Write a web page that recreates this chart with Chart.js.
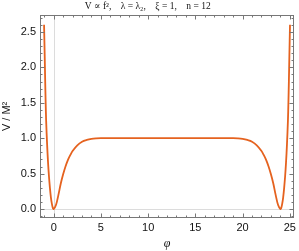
<!DOCTYPE html>
<html>
<head>
<meta charset="utf-8">
<script src="https://cdn.jsdelivr.net/npm/chart.js@4"></script>
<style>
  html, body { margin: 0; padding: 0; background: #fff; }
  #wrap { width: 299px; height: 251px; }
</style>
</head>
<body>
<div id="wrap"><canvas id="myChart"></canvas></div>
<script>
// values
const phi = [-1.02, -0.95, -0.9, -0.85, -0.8, -0.7, -0.6, -0.5, -0.4, -0.3, -0.2, -0.1, 0,
    0.25, 0.5, 0.75, 1, 1.25, 1.5, 1.75, 2, 2.5, 3, 3.5, 4, 4.5, 5, 6, 8, 10, 12, 14, 16, 18, 19,
    19.5, 20, 20.5, 21, 21.5, 22, 22.25, 22.5, 22.75, 23, 23.25, 23.5, 23.75, 24,
    24.1, 24.2, 24.3, 24.4, 24.5, 24.6, 24.7, 24.8, 24.85, 24.9, 24.95, 25.02];
const potential = [2.6, 2.15, 1.8, 1.5, 1.25, 0.92, 0.66, 0.46, 0.3, 0.17, 0.08, 0.02, 0,
    0.06, 0.2, 0.36, 0.49, 0.6, 0.69, 0.76, 0.82, 0.9, 0.95, 0.975, 0.99, 0.997, 1, 1, 1, 1, 1, 1, 1, 1, 1,
    0.997, 0.99, 0.975, 0.95, 0.9, 0.82, 0.76, 0.69, 0.6, 0.49, 0.36, 0.2, 0.06, 0,
    0.02, 0.08, 0.17, 0.3, 0.46, 0.66, 0.92, 1.25, 1.5, 1.8, 2.15, 2.6];
const xTicks = [0, 5, 10, 15, 20, 25];
const yTicks = [0, 0.5, 1, 1.5, 2, 2.5];

const X_MIN = -1.45, X_MAX = 25.45, Y_MIN = -0.126, Y_MAX = 2.74;

// Mathematica-like frame with inward ticks + zero lines
const framePlugin = {
    id: 'frame',
    beforeDatasetsDraw(chart) {
        const {ctx, chartArea: a, scales: {x, y}} = chart;
        ctx.save();
        ctx.strokeStyle = '#dcdcdc';
        ctx.lineWidth = 1;
        ctx.beginPath();
        const x0 = Math.round(x.getPixelForValue(0)) + 0.5;
        const y0 = Math.round(y.getPixelForValue(0)) + 0.5;
        ctx.moveTo(x0, a.top); ctx.lineTo(x0, a.bottom);
        ctx.moveTo(a.left, y0); ctx.lineTo(a.right, y0);
        ctx.stroke();
        ctx.restore();
    },
    afterDatasetsDraw(chart) {
        const {ctx, chartArea: a, scales: {x, y}} = chart;
        ctx.save();
        ctx.strokeStyle = '#777';
        ctx.lineWidth = 1;
        const L = Math.round(a.left) + 0.5, R = Math.round(a.right) - 0.5;
        const T = Math.round(a.top) + 0.5, B = Math.round(a.bottom) - 0.5;
        ctx.strokeRect(L, T, R - L, B - T);
        ctx.beginPath();
        for (let v = -1; v <= 25; v++) {
            const px = Math.round(x.getPixelForValue(v)) + 0.5;
            const len = v % 5 === 0 ? 4 : 2;
            ctx.moveTo(px, B); ctx.lineTo(px, B - len);
            ctx.moveTo(px, T); ctx.lineTo(px, T + len);
        }
        for (let i = -1; i <= 27; i++) {
            const v = i / 10;
            const py = Math.round(y.getPixelForValue(v)) + 0.5;
            const len = i % 5 === 0 ? 4 : 2;
            ctx.moveTo(L, py); ctx.lineTo(L + len, py);
            ctx.moveTo(R, py); ctx.lineTo(R - len, py);
        }
        ctx.stroke();
        ctx.restore();
    }
};

const myChart = new Chart(
    document.getElementById('myChart'),
    {
        type: 'line',
        data: {
            datasets: [
                {
                    data: phi.map((p, i) => ({x: p, y: potential[i]})),
                    borderColor: '#e5621f',
                    borderWidth: 1.8,
                    pointRadius: 0,
                    tension: 0.35,
                    fill: false
                }
            ]
        },
        options: {
            responsive: true,
            maintainAspectRatio: false,
            animation: false,
            layout: {padding: {left: 0, right: 3.5, top: 0, bottom: 0}},
            plugins: {
                legend: {display: false},
                tooltip: {enabled: false},
                title: {
                    display: true,
                    text: 'V \u221d f\u00b2,    \u03bb = \u03bb\u2082,    \u03be = 1,    n = 12',
                    color: '#111',
                    font: {family: '"Liberation Serif", "DejaVu Serif", serif', size: 9.5, weight: 'normal'},
                    padding: {top: 1, bottom: 2.5}
                }
            },
            scales: {
                x: {
                    type: 'linear',
                    min: X_MIN,
                    max: X_MAX,
                    grid: {display: false, drawTicks: false},
                    border: {display: false},
                    afterBuildTicks: s => { s.ticks = xTicks.map(v => ({value: v})); },
                    afterFit: s => { s.height = 33; },
                    ticks: {
                        color: '#111',
                        padding: 3,
                        maxRotation: 0,
                        font: {family: '"Liberation Sans", Arial, sans-serif', size: 11}
                    },
                    title: {
                        display: true,
                        text: '\u03c6',
                        color: '#111',
                        padding: {top: 5, bottom: 0},
                        font: {family: '"Liberation Serif", "DejaVu Serif", serif', size: 12, style: 'italic'}
                    }
                },
                y: {
                    min: Y_MIN,
                    max: Y_MAX,
                    grid: {display: false, drawTicks: false},
                    border: {display: false},
                    afterBuildTicks: s => { s.ticks = yTicks.map(v => ({value: v})); },
                    afterFit: s => { s.width = 40; },
                    ticks: {
                        color: '#111',
                        padding: 4,
                        callback: v => v.toFixed(1),
                        font: {family: '"Liberation Sans", Arial, sans-serif', size: 11}
                    },
                    title: {
                        display: true,
                        text: 'V / M\u00b2',
                        color: '#111',
                        padding: {top: 0, bottom: 0},
                        font: {family: '"Liberation Sans", Arial, sans-serif', size: 11}
                    }
                }
            }
        },
        plugins: [framePlugin]
    }
);
</script>
</body>
</html>
